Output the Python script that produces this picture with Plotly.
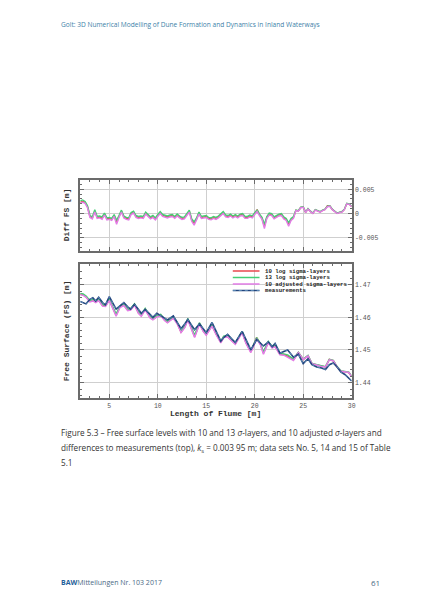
import numpy as np
import plotly.graph_objects as go

# ---- top panel: difference to measurements, every 0.25 m from 2 m to 30 m (values in mm)
diff_x = np.arange(2.0, 30.001, 0.25)

diff_log10_mm = [
    2.3, 2.5, 2.3, 1.4,  -0.6, -0.9, 0.5, -0.8,  -0.7, -1.0, -0.1, -1.1,
    -1.0, -1.2, -0.4, -1.8,  -0.6, 0.5, -0.7, -1.0,  -1.1, 0.0, 0.3, -0.6,
    -0.8, -0.7, -0.8, 0.1,  -0.4, -0.9, -0.6, -1.1,  -0.4, 0.2, -0.4, -0.6,
    -0.7, -0.5, -0.4, -0.8,  -0.3, -0.7, -1.0, -0.9,  -0.1, 0.5, -1.3, -2.0,
    -1.1, 0.1, -0.8, -0.7,  -0.6, -1.0, -1.1, -0.8,  -1.0, -0.7, -0.3, 0.2,
    -0.5, -0.6, -0.3, -0.7,  -0.4, -0.7, -0.3, -0.2,  -0.8, -0.8, -0.5, -0.7,
    0.0, 0.8, -0.3, -1.0,  -2.6, -0.8, -0.1, -0.2,  -0.9, -0.6, -0.3, -0.2,
    -0.9, -1.2, -2.2, -1.2,  -0.8, 0.65, 0.55, 1.25,  1.35, 0.25, 0.95, 0.45,
    0.05, 0.75, 0.55, 0.35,  0.65, 0.85, 1.6, 1.55,  0.85, 0.45, 0.05, 0.25,
    0.35, 0.85, 2.05, 1.95,  1.45,
]
diff_log13_mm = [
    2.6, 2.8, 2.5, 1.6,  -0.4, -0.7, 0.8, -0.6,  -0.5, -0.7, 0.1, -0.9,
    -0.8, -1.0, -0.2, -1.4,  -0.4, 0.7, -0.5, -0.8,  -0.9, 0.2, 0.5, -0.4,
    -0.6, -0.5, -0.6, 0.3,  -0.2, -0.7, -0.4, -0.9,  -0.2, 0.4, -0.2, -0.4,
    -0.5, -0.3, -0.2, -0.6,  -0.1, -0.5, -0.8, -0.7,  0.1, 0.7, -1.1, -1.7,
    -0.9, 0.3, -0.6, -0.5,  -0.4, -0.8, -0.9, -0.6,  -0.8, -0.5, -0.1, 0.4,
    -0.3, -0.4, -0.1, -0.5,  -0.2, -0.5, -0.1, 0.0,  -0.6, -0.6, -0.3, -0.5,
    0.2, 0.7, -0.1, -0.8,  -2.2, -0.6, 0.1, 0.0,  -0.7, -0.4, -0.1, 0.0,
    -0.7, -1.0, -1.9, -1.0,  -0.6, 0.7, 0.6, 1.3,  1.4, 0.3, 1.0, 0.5,
    0.1, 0.8, 0.6, 0.4,  0.7, 0.9, 1.5, 1.6,  0.9, 0.5, 0.1, 0.3,
    0.4, 0.9, 2.1, 2.0,  1.5,
]
diff_adj10_mm = [
    2.1, 2.3, 2.1, 1.2,  -0.8, -1.1, 0.3, -1.0,  -0.9, -1.2, -0.3, -1.3,
    -1.2, -1.4, -0.6, -2.2,  -0.8, 0.3, -0.9, -1.2,  -1.3, -0.2, 0.1, -0.8,
    -1.0, -0.9, -1.0, -0.1,  -0.6, -1.1, -0.8, -1.3,  -0.6, 0.0, -0.6, -0.8,
    -0.9, -0.7, -0.6, -1.0,  -0.5, -0.9, -1.2, -1.1,  -0.3, 0.3, -1.6, -2.4,
    -1.3, -0.1, -1.0, -0.9,  -0.8, -1.2, -1.3, -1.0,  -1.2, -0.9, -0.5, 0.0,
    -0.7, -0.8, -0.5, -0.9,  -0.6, -0.9, -0.5, -0.4,  -1.0, -1.0, -0.7, -0.9,
    -0.2, 0.4, -0.5, -1.2,  -3.1, -1.0, -0.3, -0.4,  -1.1, -0.8, -0.5, -0.4,
    -1.1, -1.4, -2.6, -1.4,  -1.0, 0.6, 0.5, 1.2,  1.3, 0.2, 0.9, 0.4,
    0.0, 0.7, 0.5, 0.3,  0.6, 0.8, 1.4, 1.5,  0.8, 0.4, 0.0, 0.2,
    0.3, 0.8, 2.0, 1.9,  1.4,
]

# ---- bottom panel: free surface levels [m]
fs_x = [
    2.0, 2.3, 2.6, 3.0, 3.3, 3.6, 3.9, 4.3, 4.6, 5.0, 5.3, 5.7, 6.1, 6.5, 6.9, 7.2, 7.6,
    8.0, 8.3, 8.7, 9.2, 9.5, 9.9, 10.3, 10.7, 11.0, 11.6, 12.0, 12.4, 12.8, 13.1, 13.5,
    13.8, 14.3, 14.7, 15.0, 15.6, 16.0, 16.5, 16.8, 17.2, 17.6, 18.0, 18.7, 19.1, 19.6,
    20.2, 20.6, 20.9, 21.4, 21.8, 22.1, 22.6, 23.0, 23.4, 24.0, 24.5, 25.0, 25.5, 25.9,
    26.4, 26.9, 27.3, 27.7, 28.1, 28.5, 28.9, 29.3, 29.7, 30.0,
]
fs_meas = [
    1.4648, 1.4644, 1.4641, 1.4655, 1.4660, 1.4650, 1.4661, 1.4645, 1.4638, 1.4663,
    1.4645, 1.4625, 1.4635, 1.4645, 1.4632, 1.4625, 1.4640, 1.4622, 1.4612, 1.4624,
    1.4608, 1.4600, 1.4612, 1.4605, 1.4598, 1.4592, 1.4604, 1.4585, 1.4565, 1.4580,
    1.4593, 1.4575, 1.4562, 1.4580, 1.4565, 1.4553, 1.4584, 1.4560, 1.4527, 1.4538,
    1.4548, 1.4535, 1.4523, 1.4557, 1.4530, 1.4500, 1.4532, 1.4520, 1.4512, 1.4525,
    1.4510, 1.4520, 1.4490, 1.4495, 1.4500, 1.4478, 1.4487, 1.4458, 1.4473, 1.4455,
    1.4448, 1.4445, 1.4440, 1.4455, 1.4460, 1.4448, 1.4432, 1.4425, 1.4412, 1.4405,
]
fs_log10 = [
    1.4671, 1.4669, 1.4663, 1.4649, 1.4652, 1.4647, 1.4653, 1.4636, 1.4635, 1.4653,
    1.4633, 1.4606, 1.4632, 1.4638, 1.4622, 1.4624, 1.4639, 1.4614, 1.4605, 1.4625,
    1.4600, 1.4594, 1.4603, 1.4607, 1.4592, 1.4585, 1.4599, 1.4582, 1.4555, 1.4571,
    1.4594, 1.4561, 1.4541, 1.4581, 1.4558, 1.4547, 1.4575, 1.4550, 1.4524, 1.4540,
    1.4542, 1.4530, 1.4519, 1.4555, 1.4522, 1.4494, 1.4538, 1.4517, 1.4491, 1.4524,
    1.4508, 1.4512, 1.4487, 1.4486, 1.4481, 1.4470, 1.4492, 1.4471, 1.4482, 1.4458,
    1.4454, 1.4449, 1.4448, 1.4471, 1.4467, 1.4448, 1.4435, 1.4433, 1.4431, 1.4419,
]
fs_log13 = [
    1.4673, 1.4671, 1.4665, 1.4651, 1.4654, 1.4650, 1.4655, 1.4638, 1.4637, 1.4655,
    1.4635, 1.4610, 1.4634, 1.4640, 1.4624, 1.4626, 1.4641, 1.4616, 1.4607, 1.4627,
    1.4602, 1.4596, 1.4605, 1.4609, 1.4594, 1.4587, 1.4601, 1.4584, 1.4557, 1.4573,
    1.4596, 1.4564, 1.4545, 1.4583, 1.4560, 1.4549, 1.4577, 1.4552, 1.4526, 1.4542,
    1.4544, 1.4532, 1.4521, 1.4557, 1.4524, 1.4496, 1.4538, 1.4519, 1.4494, 1.4526,
    1.4510, 1.4514, 1.4489, 1.4488, 1.4485, 1.4472, 1.4493, 1.4472, 1.4483, 1.4459,
    1.4455, 1.4450, 1.4449, 1.4471, 1.4468, 1.4449, 1.4436, 1.4434, 1.4432, 1.4420,
]
fs_adj10 = [
    1.4669, 1.4667, 1.4661, 1.4647, 1.4650, 1.4645, 1.4651, 1.4634, 1.4633, 1.4651,
    1.4631, 1.4603, 1.4630, 1.4636, 1.4620, 1.4622, 1.4637, 1.4612, 1.4603, 1.4623,
    1.4598, 1.4592, 1.4601, 1.4605, 1.4590, 1.4583, 1.4597, 1.4580, 1.4553, 1.4569,
    1.4592, 1.4559, 1.4538, 1.4579, 1.4556, 1.4545, 1.4573, 1.4548, 1.4522, 1.4538,
    1.4540, 1.4528, 1.4517, 1.4553, 1.4520, 1.4492, 1.4534, 1.4515, 1.4487, 1.4522,
    1.4506, 1.4510, 1.4485, 1.4484, 1.4478, 1.4468, 1.4492, 1.4471, 1.4482, 1.4458,
    1.4454, 1.4449, 1.4448, 1.4470, 1.4467, 1.4448, 1.4435, 1.4433, 1.4431, 1.4419,
]

series_names = ["10 log sigma-layers", "13 log sigma-layers", "10 adjusted sigma-layers", "measurements"]
colors = ["#e8474c", "#45cf74", "#e27de6", "#22457e"]

W, H = 424, 600


def px(x):
    return x / W


def py(y):
    return 1 - y / H


fig = go.Figure()

# top panel traces
for vals, col in zip([diff_log10_mm, diff_log13_mm, diff_adj10_mm], colors[:3]):
    fig.add_trace(go.Scatter(x=diff_x, y=np.array(vals) / 1000, mode="lines",
                             line={"color": col, "width": 1.4}, xaxis="x2", yaxis="y2"))

# bottom panel traces
for vals, col in zip([fs_log10, fs_log13, fs_adj10], colors[:3]):
    fig.add_trace(go.Scatter(x=fs_x, y=vals, mode="lines",
                             line={"color": col, "width": 1.5}, xaxis="x", yaxis="y"))
fig.add_trace(go.Scatter(x=fs_x, y=fs_meas, mode="lines",
                         line={"color": colors[3], "width": 1.6}, xaxis="x", yaxis="y"))
fig.add_trace(go.Scatter(x=fs_x, y=fs_meas, mode="lines",
                         line={"color": "#7fb2d6", "width": 0.6, "dash": "dot"}, xaxis="x", yaxis="y"))

frame = "#6b6b6b"
tickfont = {"family": "Liberation Mono", "size": 6.5, "color": "#555555"}
common = dict(
    showline=True, linecolor=frame, linewidth=2, mirror="allticks",
    ticks="inside", ticklen=4, tickcolor=frame,
    showgrid=True, gridcolor="#cfcfcf", gridwidth=1, zeroline=False,
    tickfont=tickfont,
)
x_dom = [px(81), px(355)]

fig.update_layout(
    width=W, height=H,
    margin={"l": 0, "r": 0, "t": 0, "b": 0},
    paper_bgcolor="white", plot_bgcolor="white",
    showlegend=False,
    xaxis=dict(common, domain=x_dom, range=[2, 30], anchor="y", tick0=0, dtick=5,
               minor={"dtick": 1, "ticks": "inside", "ticklen": 2, "tickcolor": frame}),
    yaxis=dict(common, domain=[py(398), py(264)], range=[1.4353, 1.4763], anchor="x",
               side="right", dtick=0.01, tickformat=".2f",
               minor={"dtick": 0.002, "ticks": "inside", "ticklen": 2, "tickcolor": frame}),
    xaxis2=dict(common, domain=x_dom, range=[2, 30], anchor="y2", tick0=0, dtick=5,
                showticklabels=False,
                minor={"dtick": 1, "ticks": "inside", "ticklen": 2, "tickcolor": frame}),
    yaxis2=dict(common, domain=[py(251), py(180)], range=[-0.0077, 0.0069], anchor="x2",
                side="right", tickvals=[-0.005, 0, 0.005], ticktext=["-0.005", "0", "0.005"],
                minor={"dtick": 0.001, "ticks": "inside", "ticklen": 2, "tickcolor": frame}),
)

mono = "Liberation Mono"
ann = []
ann.append(dict(x=px(67), y=py(215), text="<b>Diff FS [m]</b>", textangle=-90,
                font={"family": mono, "size": 8, "color": "#333"}))
ann.append(dict(x=px(67), y=py(331), text="<b>Free Surface (FS) [m]</b>", textangle=-90,
                font={"family": mono, "size": 8, "color": "#333"}))
ann.append(dict(x=px(218), y=py(413), text="<b>Length of Flume [m]</b>",
                font={"family": mono, "size": 8, "color": "#333"}))

# legend drawn by hand (plotly's legend rows are too tall at this size)
leg_rows = [271, 277.5, 284, 290.5]
shapes = []
for name, col, yy in zip(series_names, colors, leg_rows):
    shapes.append(dict(type="line", xref="paper", yref="paper", x0=px(235), x1=px(262),
                       y0=py(yy), y1=py(yy), line={"color": col, "width": 1.5}))
    ann.append(dict(x=px(266), y=py(yy), xanchor="left", text="<b>" + name + "</b>",
                    font={"family": mono, "size": 5.7, "color": "#222"}))
shapes.append(dict(type="line", xref="paper", yref="paper", x0=px(235), x1=px(262),
                   y0=py(leg_rows[3]), y1=py(leg_rows[3]),
                   line={"color": "#7fb2d6", "width": 0.6, "dash": "dot"}))

# page texts
ann.append(dict(x=px(60), y=py(25), xanchor="left",
                text="Golt: 3D Numerical Modelling of Dune Formation and Dynamics in Inland Waterways",
                font={"family": "Open Sans", "size": 6.6, "color": "#3d7fa8"}))
caption = [
    "Figure 5.3 – Free surface levels with 10 and 13 <i>σ</i>-layers, and 10 adjusted <i>σ</i>-layers and",
    "differences to measurements (top), <i>k</i><sub>s</sub> = 0.003 95 m; data sets No. 5, 14 and 15 of Table",
    "5.1",
]
for line, yy in zip(caption, [432, 448, 463]):
    ann.append(dict(x=px(60), y=py(yy), xanchor="left", text=line,
                    font={"family": "Open Sans", "size": 8.2, "color": "#333"}))
ann.append(dict(x=px(60), y=py(582), xanchor="left",
                text="<b><span style='color:#1f5f9a'>BAW</span></b>Mitteilungen Nr. 103 2017",
                font={"family": "Open Sans", "size": 7, "color": "#4a6a85"}))
ann.append(dict(x=px(386), y=py(582), xanchor="right", text="61",
                font={"family": "Open Sans", "size": 8, "color": "#4a6a85"}))

for a in ann:
    a.setdefault("xref", "paper")
    a.setdefault("yref", "paper")
    a.setdefault("showarrow", False)
    a.setdefault("xanchor", "center")
    a.setdefault("yanchor", "middle")

fig.update_layout(annotations=ann, shapes=shapes)
# drop the browser's default body margin so the page lines up with the window
fig.write_html("out.html", config={"displayModeBar": False},
               post_script="document.body.style.margin='0';")
